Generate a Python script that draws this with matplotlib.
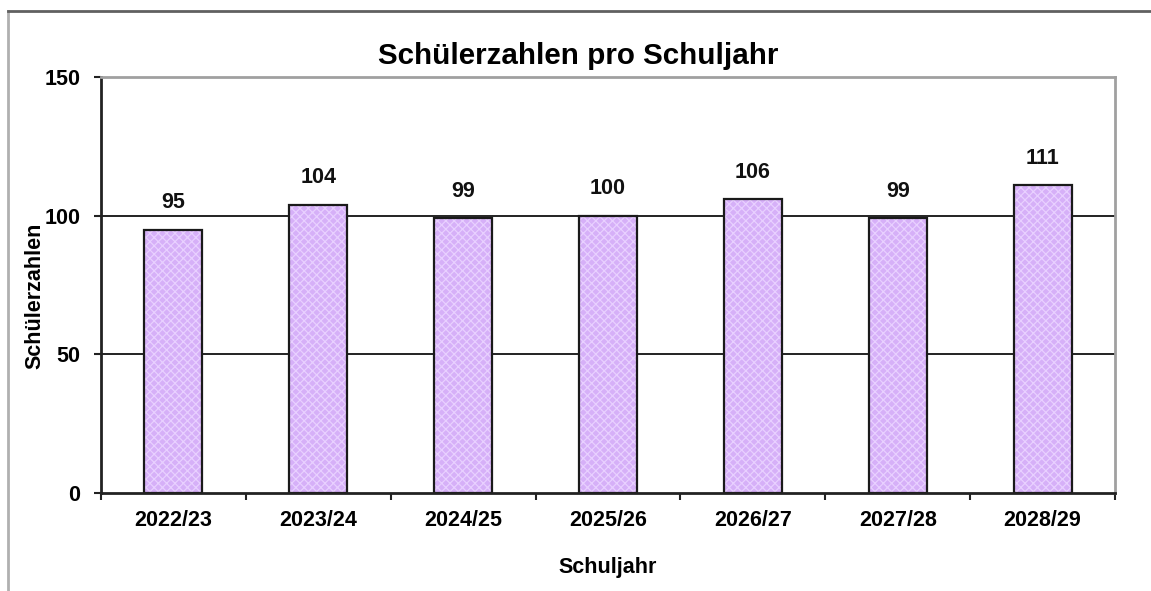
import matplotlib
matplotlib.use("Agg")
import matplotlib.pyplot as plt
from matplotlib.lines import Line2D
import numpy as np

# Schülerzahlen je Schuljahr
schuljahre = ["2022/23", "2023/24", "2024/25", "2025/26", "2026/27", "2027/28", "2028/29"]
schueler = [95, 104, 99, 100, 106, 99, 111]
y_ticks = [0, 50, 100, 150]

plt.rcParams["font.family"] = ["Liberation Sans", "DejaVu Sans"]
plt.rcParams["hatch.linewidth"] = 0.9

FS = 15.5
W, H = 1151, 591
fig = plt.figure(figsize=(W / 100, H / 100), dpi=100)
fig.patch.set_facecolor("white")

# plot area in pixel coordinates
left, right, top, bottom = 101, 1115, 77, 493
ax = fig.add_axes([left / W, 1 - bottom / H, (right - left) / W, (bottom - top) / H])

x = np.arange(len(schuljahre))
# patterned fill
ax.bar(x, schueler, width=0.4, color="#d6b0f8", edgecolor="#e8d0ff",
       hatch="xxxx", linewidth=0, zorder=2)
# black outlines
ax.bar(x, schueler, width=0.4, fill=False, edgecolor="#1a1a1a",
       linewidth=1.6, zorder=3)

for xi, v in zip(x, schueler):
    ax.annotate(str(v), (xi, v), xytext=(0, 15.3), textcoords="offset points",
                ha="center", va="baseline", fontsize=FS, fontweight="bold",
                color="#111111")

ax.set_xlim(-0.5, len(schuljahre) - 0.5)
ax.set_ylim(0, 150)
ax.set_yticks(y_ticks)
ax.set_yticklabels([str(t) for t in y_ticks], fontsize=FS, fontweight="bold")
ax.set_xticks(x)
ax.set_xticklabels(schuljahre, fontsize=FS, fontweight="bold")
ax.set_xticks(np.arange(len(schuljahre) + 1) - 0.5, minor=True)
ax.tick_params(axis="x", which="major", length=0, pad=12.5)
ax.tick_params(axis="x", which="minor", length=5, width=1.5, direction="out", color="#222222")
ax.tick_params(axis="y", length=5, width=1.5, direction="out", pad=10, color="#222222")

for yv in (50, 100):
    ax.axhline(yv, color="#111111", linewidth=1.3, zorder=1)

for side in ("top", "right"):
    ax.spines[side].set_color("#a0a0a0")
    ax.spines[side].set_linewidth(2)
for side in ("left", "bottom"):
    ax.spines[side].set_color("#222222")
    ax.spines[side].set_linewidth(2)
ax.spines["bottom"].set_zorder(4)

fig.text(35 / W, 1 - 296 / H, "Schülerzahlen", rotation=90, ha="center",
         va="center", fontsize=FS, fontweight="bold")
fig.text(608 / W, 1 - 568 / H, "Schuljahr", ha="center", va="center",
         fontsize=FS, fontweight="bold")
fig.text(578 / W, 1 - 56 / H, "Schülerzahlen pro Schuljahr", ha="center",
         va="center", fontsize=21.3, fontweight="bold")

# outer chart frame (left and top edges)
fig.add_artist(Line2D([8 / W, 8 / W], [0, 1 - 11 / H], transform=fig.transFigure,
                      color="#b0b0b0", linewidth=2))
fig.add_artist(Line2D([8 / W, 1], [1 - 11 / H, 1 - 11 / H], transform=fig.transFigure,
                      color="#606060", linewidth=2))

fig.savefig("out.png", dpi=100, facecolor="white")
